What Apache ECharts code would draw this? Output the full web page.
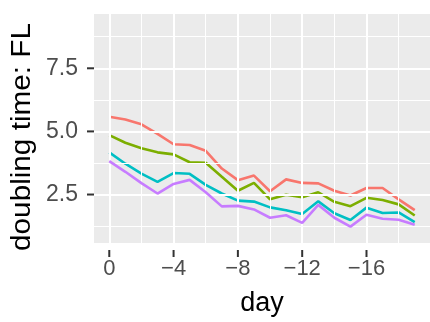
<!DOCTYPE html>
<html>
<head>
<meta charset="utf-8">
<script src="https://cdn.jsdelivr.net/npm/echarts@6/dist/echarts.min.js"></script>
<style>
html,body{margin:0;padding:0;background:#fff;}
#c{width:430px;height:322px;}
</style>
</head>
<body>
<div id="c"></div>
<script>
const days = [0,-1,-2,-3,-4,-5,-6,-7,-8,-9,-10,-11,-12,-13,-14,-15,-16,-17,-18,-19];
const seriesRed    = [5.58,5.47,5.28,4.90,4.49,4.46,4.23,3.53,3.07,3.25,2.63,3.10,2.96,2.94,2.65,2.46,2.76,2.76,2.31,1.88];
const seriesGreen  = [4.85,4.55,4.33,4.17,4.09,3.78,3.76,3.20,2.65,2.96,2.31,2.49,2.39,2.59,2.21,2.04,2.37,2.28,2.11,1.67];
const seriesCyan   = [4.17,3.72,3.33,3.00,3.35,3.32,2.88,2.54,2.26,2.22,1.99,1.88,1.73,2.23,1.76,1.49,1.98,1.77,1.79,1.41];
const seriesPurple = [3.82,3.40,2.95,2.54,2.92,3.08,2.59,2.03,2.05,1.91,1.58,1.68,1.38,2.09,1.58,1.23,1.70,1.54,1.50,1.30];
const xTicks = [0,-4,-8,-12,-16];
const xMinor = [-2,-6,-10,-14,-18];
const yTicks = [2.5,5.0,7.5];
const yMinor = [1.25,3.75,6.25,8.75];
const colors = ['#F8766D','#7CAE00','#00BFC4','#C77CFF'];
const xTitle = 'day';
const yTitle = 'doubling time: FL';

const chart = echarts.init(document.getElementById('c'), null, {renderer:'canvas'});
function pairs(vals){ return days.map((d,i)=>[d, vals[i]]); }
const gridLines = [];
xMinor.forEach(v=>gridLines.push({xAxis:v, lineStyle:{width:1}}));
yMinor.forEach(v=>gridLines.push({yAxis:v, lineStyle:{width:1}}));
xTicks.forEach(v=>gridLines.push({xAxis:v, lineStyle:{width:2}}));
yTicks.forEach(v=>gridLines.push({yAxis:v, lineStyle:{width:2}}));

const font = 'Liberation Sans';
const G = {left:94, top:14, width:336, height:236};
const lw = 2.6;
chart.setOption({
  animation:false,
  grid:{left:G.left, top:G.top, width:G.width, height:G.height, show:true, backgroundColor:'#EBEBEB', borderWidth:0},
  xAxis:{
    type:'value', inverse:true, min:-19.95, max:0.95,
    name:xTitle, nameLocation:'middle', nameGap:47,
    nameTextStyle:{fontFamily:font, fontSize:27, color:'#000'},
    axisLine:{show:false},
    splitLine:{show:false},
    axisTick:{show:false},
    axisLabel:{customValues:xTicks, margin:15, fontFamily:font, fontSize:22, color:'#4D4D4D',
      formatter:v=>String(v).replace('-','\u2212')}
  },
  yAxis:{
    type:'value', min:0.58, max:9.65,
    axisLine:{show:false},
    splitLine:{show:false},
    axisTick:{show:false},
    axisLabel:{customValues:yTicks, margin:16, fontFamily:font, fontSize:23, color:'#4D4D4D',
      formatter:v=>v.toFixed(1)}
  },
  series:[
    {type:'line', data:[], z:1, silent:true,
      markLine:{silent:true, symbol:['none','none'], label:{show:false}, animation:false,
        lineStyle:{color:'#FFFFFF', type:'solid'}, emphasis:{disabled:true}, data:gridLines}},
    {type:'line', data:pairs(seriesRed), showSymbol:false, z:2, lineStyle:{color:colors[0], width:lw}, itemStyle:{color:colors[0]}},
    {type:'line', data:pairs(seriesGreen), showSymbol:false, z:3, lineStyle:{color:colors[1], width:lw}, itemStyle:{color:colors[1]}},
    {type:'line', data:pairs(seriesCyan), showSymbol:false, z:4, lineStyle:{color:colors[2], width:lw}, itemStyle:{color:colors[2]}},
    {type:'line', data:pairs(seriesPurple), showSymbol:false, z:5, lineStyle:{color:colors[3], width:lw}, itemStyle:{color:colors[3]}}
  ]
});

// axis ticks placed through the chart's own scales
const els = [];
const bottom = G.top + G.height;
xTicks.forEach(v=>{
  const px = chart.convertToPixel({gridIndex:0}, [v, 1])[0];
  els.push({type:'line', silent:true, shape:{x1:px, y1:bottom, x2:px, y2:bottom+7}, style:{stroke:'#333333', lineWidth:2}});
});
yTicks.forEach(v=>{
  const py = chart.convertToPixel({gridIndex:0}, [0, v])[1];
  els.push({type:'line', silent:true, shape:{x1:G.left-7, y1:py, x2:G.left, y2:py}, style:{stroke:'#333333', lineWidth:2}});
});
els.push({type:'text', silent:true, x:23, y:137, rotation:Math.PI/2, scaleX:1.1,
  style:{text:yTitle, font:'27px "Liberation Sans"', fill:'#000', align:'center', verticalAlign:'middle'}});
chart.setOption({graphic:{elements:els}});
</script>
</body>
</html>
